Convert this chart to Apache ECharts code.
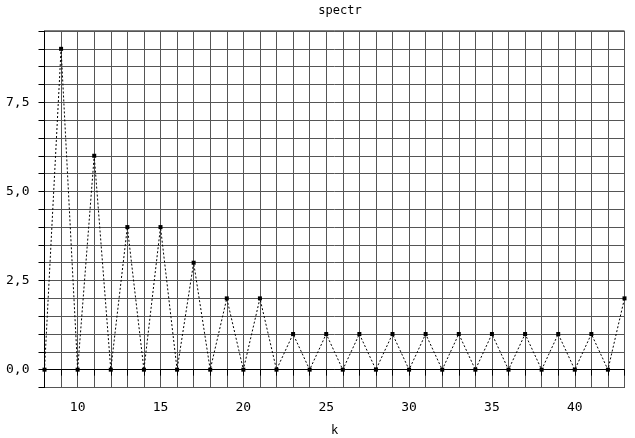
<!DOCTYPE html>
<html>
<head>
<meta charset="utf-8">
<script src="https://cdn.jsdelivr.net/npm/echarts@6/dist/echarts.min.js"></script>
<style>
html,body{margin:0;padding:0;background:#fff;}
#chart{width:635px;height:438px;}
</style>
</head>
<body>
<div id="chart"></div>
<script>
const titleText = 'spectr';
const xName = 'k';
const kValues = [8,9,10,11,12,13,14,15,16,17,18,19,20,21,22,23,24,25,26,27,28,29,30,31,32,33,34,35,36,37,38,39,40,41,42,43];
const spectrValues = [0,9,0,6,0,4,0,4,0,3,0,2,0,2,0,1,0,1,0,1,0,1,0,1,0,1,0,1,0,1,0,1,0,1,0,2];
const xTicks = [10,15,20,25,30,35,40];
const yTicks = [0,2.5,5,7.5];

const FONT = '"DejaVu Sans Mono", "Liberation Mono", monospace';
const chart = echarts.init(document.getElementById('chart'), null, {renderer:'canvas'});
chart.setOption({
  animation:false,
  backgroundColor:'#fff',
  title:{text:titleText,left:335,top:0,textAlign:'center',
    textStyle:{fontFamily:FONT,fontSize:12,fontWeight:'normal',color:'#000'}},
  grid:{left:44.5,right:10.5,top:31,bottom:50.5,containLabel:false,outerBoundsMode:'none',
    show:true,borderColor:'#000',borderWidth:1,backgroundColor:'transparent'},
  xAxis:{type:'value',min:8,max:43,interval:1,name:xName,nameLocation:'middle',nameGap:37,
    nameTextStyle:{fontFamily:FONT,fontSize:12,color:'#000'},
    axisLine:{lineStyle:{color:'#000',width:1}},
    axisTick:{show:true,length:6,lineStyle:{color:'#000'}},
    axisLabel:{fontFamily:FONT,fontSize:13,color:'#000',margin:14,showMinLabel:true,showMaxLabel:true,
      formatter:v=>xTicks.indexOf(Math.round(v))>=0 && Math.abs(v-Math.round(v))<1e-6 ? String(Math.round(v)) : ''},
    splitLine:{show:true,lineStyle:{color:'#555',width:1}}},
  yAxis:{type:'value',min:-0.5,max:9.5,interval:0.5,
    axisLine:{show:true,lineStyle:{color:'#000',width:1}},
    axisTick:{show:true,length:6,lineStyle:{color:'#000'}},
    axisLabel:{fontFamily:FONT,fontSize:13,color:'#000',margin:15,
      formatter:v=>{const m=yTicks.find(t=>Math.abs(t-v)<1e-6);return m===undefined?'':m.toFixed(1).replace('.',',');}},
    splitLine:{show:true,lineStyle:{color:'#555',width:1}}},
  series:[{type:'line',data:kValues.map((k,i)=>[k,spectrValues[i]]),
    symbol:'rect',symbolSize:4,itemStyle:{color:'#000'},
    lineStyle:{color:'#000',width:1,type:[2,2]},clip:false}]
});
</script>
</body>
</html>
